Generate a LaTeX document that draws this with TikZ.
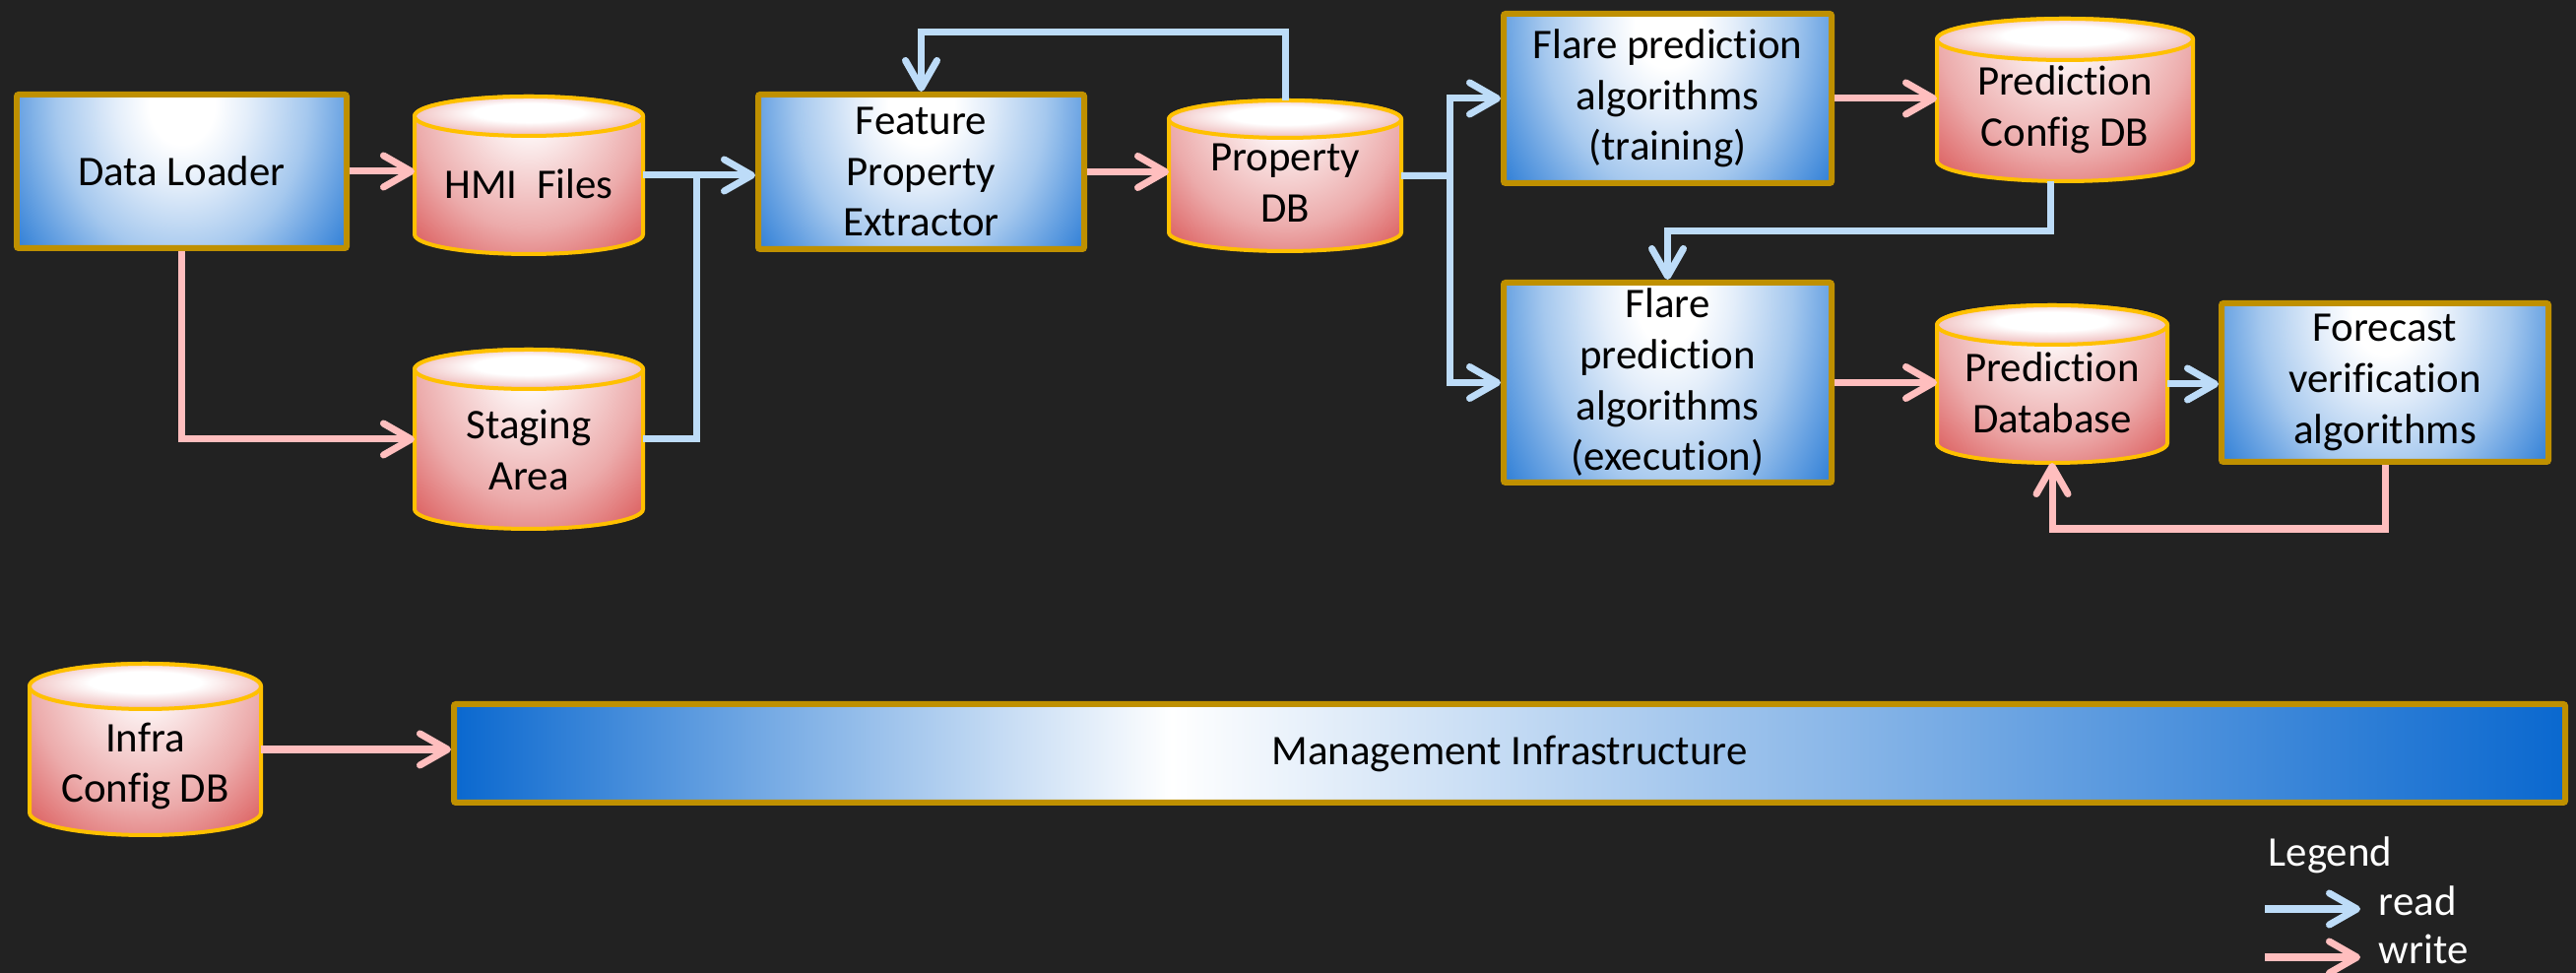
\documentclass[tikz,border=0pt]{standalone}
\usepackage{fontspec}
\setmainfont[Ligatures=NoCommon]{Carlito}
\usetikzlibrary{arrows.meta,calc}

\definecolor{canvas}{HTML}{222222}
\definecolor{boxline}{HTML}{BF9000}
\definecolor{cylline}{HTML}{FFC000}
\definecolor{bxpale}{HTML}{E4EEFA}
\definecolor{bxlight}{HTML}{A5C8EE}
\definecolor{bxmid}{HTML}{68A2E2}
\definecolor{bxdark}{HTML}{2E7ED6}
\definecolor{cylpale}{HTML}{F6D6D6}
\definecolor{cyllight}{HTML}{ECABAB}
\definecolor{cylmid}{HTML}{E68E8E}
\definecolor{cyldark}{HTML}{DB5B5B}
\definecolor{cyledge}{HTML}{F0C0C0}
\definecolor{mgblue}{HTML}{0A68CF}
\definecolor{readc}{HTML}{BDDCF8}
\definecolor{writec}{HTML}{FFBEBE}

% process boxes: white spot at the top edge, deep blue towards the lower corners
\pgfdeclareradialshading{procshade}{\pgfpointorigin}{color(0bp)=(white); color(5bp)=(white); color(10bp)=(bxpale); color(19bp)=(bxlight); color(25bp)=(bxmid); color(31bp)=(bxdark); color(45bp)=(bxdark)}
% data stores: pale under the lid, red towards the bottom corners
\pgfdeclareradialshading{cylbodyshade}{\pgfpointorigin}{color(0bp)=(white); color(4bp)=(white); color(12bp)=(cylpale); color(21bp)=(cyllight); color(25bp)=(cylmid); color(32bp)=(cyldark); color(45bp)=(cyldark)}
\pgfdeclareradialshading{cyltopshade}{\pgfpoint{0bp}{6bp}}{color(0bp)=(white); color(12bp)=(white); color(26bp)=(cyledge); color(50bp)=(cyledge)}
% infrastructure bar: blue at both ends, white left of centre
\pgfdeclarehorizontalshading{mgmtshade}{100bp}{color(0bp)=(mgblue); color(25bp)=(mgblue); color(42bp)=(white); color(75bp)=(mgblue); color(100bp)=(mgblue)}

\newcommand\labelfont{\fontsize{12.2}{14.7}\selectfont}

\tikzset{
  procbox/.style={draw=boxline, line width=0.06cm,
    path picture={\path let \p1=(path picture bounding box.north west),
      \p2=(path picture bounding box.south east) in
      [shade, shading=procshade]
      (\x1, {\y1-0.1cm-1.3*(\y1-\y2)}) rectangle (\x2, {\y1-0.1cm+1.3*(\y1-\y2)});},
    rounded corners=0.02cm, align=center, font=\labelfont, text=black, inner sep=0pt},
  mgmtbox/.style={draw=boxline, line width=0.06cm, shade, shading=mgmtshade,
    rounded corners=0.02cm, align=center, font=\labelfont, text=black, inner sep=0pt},
  cylbody/.style={draw=cylline, line width=0.04cm,
    path picture={\path let \p1=(path picture bounding box.north west),
      \p2=(path picture bounding box.south east) in
      [shade, shading=cylbodyshade]
      ({\x1-0.1*(\x2-\x1)}, {\y1-(\y1-\y2)}) rectangle ({\x2+0.1*(\x2-\x1)}, {\y1+(\y1-\y2)});}},
  cyltop/.style={draw=cylline, line width=0.04cm, shading=cyltopshade},
  dbarea/.style={rectangle, inner sep=0pt, outer sep=0pt},
  dblabel/.style={align=center, font=\labelfont, text=black, inner sep=0pt},
  readln/.style={draw=readc, line width=2pt, ->},
  writeln/.style={draw=writec, line width=2pt, ->},
  legendtxt/.style={font=\labelfont, text=white, inner sep=0pt},
}

% data store: name, x, y, width, height, cap half-height, text drop, text
\newcommand\dbcyl[8]{%
  \begin{scope}[shift={(#2,#3)}]
    \draw[cylbody] ({-#4/2},{#5/2-#6}) -- ({-#4/2},{-#5/2+#6})
      arc[start angle=180, end angle=360, x radius={#4/2}, y radius=#6]
      -- ({#4/2},{#5/2-#6})
      arc[start angle=0, end angle=180, x radius={#4/2}, y radius=#6] -- cycle;
    \shadedraw[cyltop] (0,{#5/2-#6}) ellipse[x radius={#4/2}, y radius=#6];
  \end{scope}
  \node[dbarea, minimum width=#4cm, minimum height=#5cm] (#1) at (#2,#3) {};
  \node[dblabel] (#1-txt) at ({#2},{#3-#7}) {#8};
}

\begin{document}
\begin{tikzpicture}[>={Straight Barb[length=0.28cm, width=0.32cm, round]}]
\fill[canvas] (0,0) rectangle (26.16,9.88);
\useasboundingbox (0,0) rectangle (26.16,9.88);

% processes
\node[procbox, minimum width=3.35cm, minimum height=1.56cm] (dl) at (1.845,8.14) {Data Loader};
\node[procbox, minimum width=3.31cm, minimum height=1.57cm] (fpe) at (9.355,8.135) {Feature\\Property\\Extractor};
\node[procbox, minimum width=3.33cm, minimum height=1.72cm] (trn) at (16.935,8.88) {Flare prediction\\algorithms\\(training)};
\node[procbox, minimum width=3.33cm, minimum height=2.03cm] (exe) at (16.935,5.995) {Flare\\prediction\\algorithms\\(execution)};
\node[procbox, minimum width=3.32cm, minimum height=1.61cm] (fva) at (24.22,5.995) {Forecast\\verification\\algorithms};
\node[mgmtbox, minimum width=21.44cm, minimum height=1.00cm] (mgmt) at (15.33,2.23) {Management Infrastructure};

% data stores
\dbcyl{hmi}{5.37}{8.10}{2.32}{1.60}{0.20}{0.09}{HMI~ Files}
\dbcyl{stg}{5.37}{5.42}{2.32}{1.82}{0.20}{0.11}{Staging\\Area}
\dbcyl{pdb}{13.05}{8.095}{2.36}{1.53}{0.19}{0.07}{Property\\DB}
\dbcyl{pcdb}{20.97}{8.865}{2.60}{1.65}{0.21}{0.10}{Prediction\\Config DB}
\dbcyl{pd}{20.84}{5.98}{2.34}{1.60}{0.20}{0.09}{Prediction\\Database}
\dbcyl{infra}{1.475}{2.27}{2.35}{1.74}{0.23}{0.17}{Infra\\Config DB}

% junction points of merging / splitting read lines
\coordinate (jA) at ($(hmi.east)!0.48!(hmi.east -| fpe.west)$);
\coordinate (jB) at ($(pdb.east)!0.49!(pdb.east -| trn.west)$);

% write connectors
\draw[writeln] (dl.east) -- (dl.east -| hmi.west);
\draw[writeln] (dl.south) |- (stg.west);
\draw[writeln] (fpe.east) -- (fpe.east -| pdb.west);
\draw[writeln] (trn.east) -- (trn.east -| pcdb.west);
\draw[writeln] (exe.east) -- (exe.east -| pd.west);
\draw[writeln] (fva.south) -- ++(0,-0.65) -| (pd.south);
\draw[writeln] (infra.east) -- (infra.east -| mgmt.west);

% read connectors
\draw[readln] (hmi.east) -- (hmi.east -| fpe.west);
\draw[readln, -] (stg.east) -| (jA);
\draw[readln] (pdb.north) -- ++(0,0.69) -| (fpe.north);
\draw[readln, -] (pdb.east) -- (jB);
\draw[readln] (jB) |- (trn.west);
\draw[readln] (jB) |- (exe.west);
\draw[readln] ($(pcdb.south)+(-0.15,0)$) -- ++(0,-0.51) -| (exe.north);
\draw[readln] (pd.east) -- (pd.east -| fva.west);

% legend
\node[legendtxt, anchor=base west] (legend) at (23.03,1.08) {Legend};
\coordinate (rdA) at (23.00,0.65);
\coordinate (rdB) at (23.97,0.65);
\draw[readln] (rdA) -- (rdB);
\node[legendtxt, anchor=base west] (rdlbl) at (24.15,0.58) {read};
\coordinate (wrA) at (23.00,0.16);
\coordinate (wrB) at (23.97,0.16);
\draw[writeln] (wrA) -- (wrB);
\node[legendtxt, anchor=base west] (wrlbl) at (24.15,0.09) {write};
\end{tikzpicture}
\end{document}
